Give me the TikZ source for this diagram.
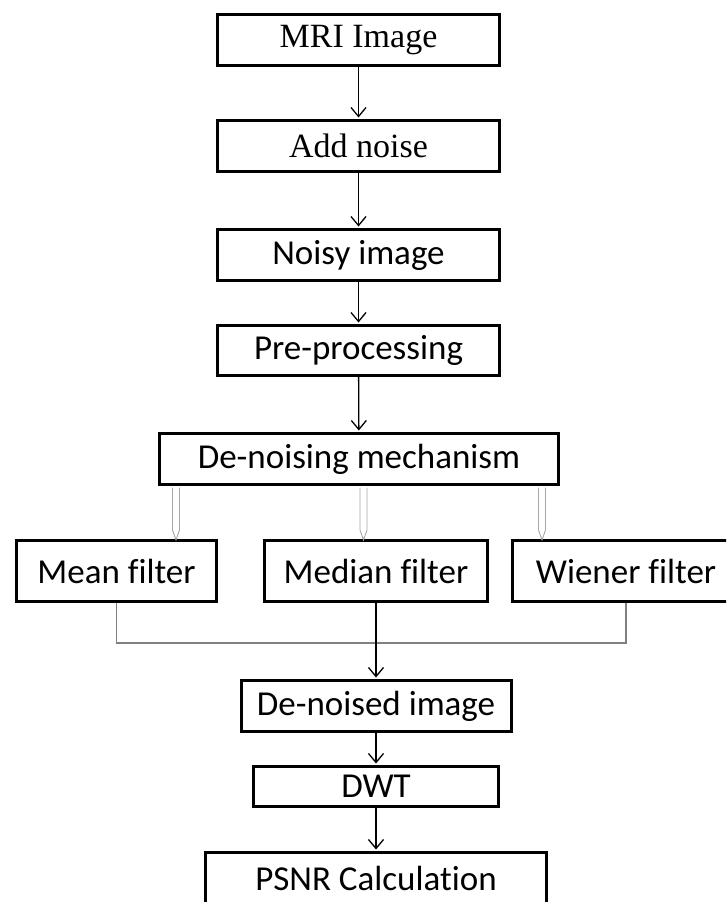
\documentclass[tikz,border=0pt]{standalone}
\usepackage{fontspec}
\setmainfont{Carlito}[Ligatures=NoCommon]
\newfontfamily\serifface{Liberation Serif}
\usetikzlibrary{arrows.meta,calc}
\begin{document}
\begin{tikzpicture}[x=1pt,y=-1pt,
  box/.style={draw, line width=3pt, inner sep=0pt, align=center,
    font=\fontsize{35}{40}\selectfont},
  serifbox/.style={box, font=\serifface\fontsize{34}{40}\selectfont},
  flow/.style={line width=1.3pt, shorten >=1.5pt,
    -{Straight Barb[length=9pt,width=15pt,line width=1.3pt]}},
  link/.style={line width=1.6pt, draw=black!50},
  pipe/.style={line width=0.9pt, draw=black!35, line join=miter}]
\useasboundingbox (0,0) rectangle (726,902);
\clip (0,0) rectangle (726,902);

% main processing chain
\node[serifbox, minimum width=282, minimum height=51] (mri)   at (358.5,40)  {MRI Image};
\node[serifbox, minimum width=282, minimum height=51] (noise) at (358.5,146) {Add noise};
\node[box, minimum width=282, minimum height=51] (noisy) at (358.5,255) {Noisy image};
\node[box, minimum width=282, minimum height=50] (pre)   at (358.5,350.5) {Pre-processing};
\node[box, minimum width=399, minimum height=51] (dn)    at (359,459)   {De-noising mechanism};

% filter bank
\node[box, minimum width=200, minimum height=61] (mean)   at (116.5,571) {Mean filter};
\node[box, minimum width=223, minimum height=61] (median) at (376,571)   {Median filter};
\node[box, minimum width=227, minimum height=61] (wiener) at (626,571)   {Wiener filter};

% output chain
\node[box, minimum width=270, minimum height=51] (dnd)  at (376,706)   {De-noised image};
\node[box, minimum width=245, minimum height=40] (dwt)  at (376,786.5) {DWT};
\node[box, minimum width=341, minimum height=51] (psnr) at (376,878)   {PSNR Calculation};

% arrows along the chain
\draw[flow] (mri) -- (noise);
\draw[flow] (noise) -- (noisy);
\draw[flow] (noisy) -- (pre);
\draw[flow] (pre) -- (dn);

% hollow arrows into the filters
\foreach \xx/\t in {176/mean, 363.5/median, 542/wiener} {
  \draw[pipe] let \p1=(dn.south), \p2=(\t.north) in
    (\xx pt-3.5pt,\y1-1.5pt) -- (\xx pt-3.5pt,\y2+9pt) -- (\xx pt,\y2-1pt)
    -- (\xx pt+3.5pt,\y2+9pt) -- (\xx pt+3.5pt,\y1-1.5pt);
}

% merging the filter outputs
\coordinate (join) at (376,643);
\draw[link] (mean.south) |- (join);
\draw[link] (wiener.south) |- (join);
\draw[flow] (median) -- (dnd);

\draw[flow] (dnd) -- (dwt);
\draw[flow] (dwt) -- (psnr);
\end{tikzpicture}
\end{document}
